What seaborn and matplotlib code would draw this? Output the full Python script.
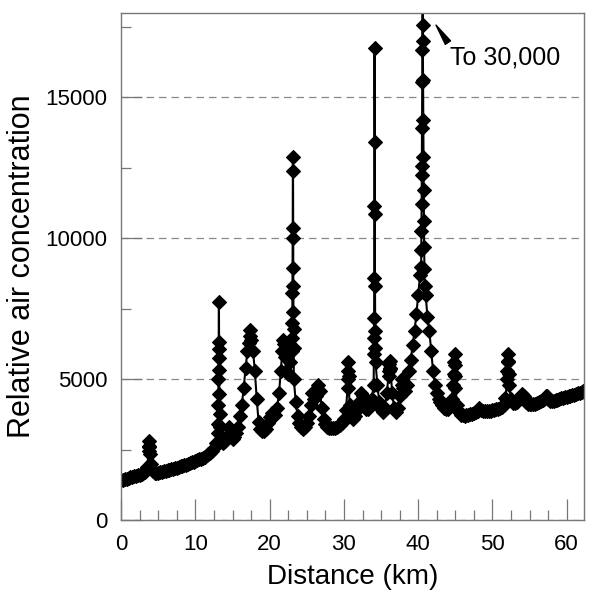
import numpy as np
import pandas as pd
import matplotlib
matplotlib.use("Agg")
import matplotlib.pyplot as plt
import seaborn as sns
from matplotlib.ticker import MultipleLocator

# Baseline concentration, one value every 0.25 km
STEP_KM = 0.25
conc_00_10 = [1420, 1440, 1460, 1480, 1500, 1520, 1540, 1560, 1580, 1600,
              1620, 1640, 1670, 1720, 1900, 2300, 2000, 1750, 1690, 1680,
              1690, 1710, 1730, 1745, 1760, 1775, 1790, 1810, 1830, 1850,
              1870, 1890, 1910, 1930, 1950, 1975, 2000, 2025, 2050, 2075]
conc_10_20 = [2100, 2130, 2160, 2190, 2220, 2260, 2300, 2350, 2400, 2470,
              2560, 2750, 3100, 3300, 2900, 2750, 2800, 3000, 3300, 3100,
              2900, 2950, 3100, 3300, 3700, 4100, 4700, 5400, 6000, 6600,
              6400, 6000, 5300, 4300, 3500, 3250, 3150, 3150, 3250, 3450]
conc_20_30 = [3650, 3800, 3700, 3750, 4000, 4500, 5300, 6200, 5800, 5300,
              5200, 5600, 6000, 5000, 4200, 3700, 3450, 3300, 3250, 3300,
              3450, 3700, 4100, 4500, 4300, 4400, 4800, 4600, 4000, 3600,
              3400, 3300, 3270, 3260, 3270, 3290, 3310, 3340, 3380, 3450]
conc_30_40 = [3600, 3900, 4700, 4100, 3700, 3600, 3700, 3900, 4200, 4500,
              4400, 4100, 3950, 3950, 4050, 4300, 4800, 5600, 4800, 4200,
              3950, 3850, 4000, 4500, 5100, 5400, 4500, 4000, 3850, 4000,
              4400, 4800, 4700, 4600, 4800, 5300, 5700, 6200, 6700, 7300]
conc_40_50 = [8000, 8700, 9300, 9200, 8000, 7200, 6700, 6000, 5300, 4800,
              4500, 4300, 4200, 4100, 4000, 3950, 3950, 4050, 4300, 4800,
              4700, 4100, 3850, 3750, 3720, 3710, 3720, 3740, 3760, 3780,
              3800, 3830, 3870, 4000, 3920, 3870, 3860, 3860, 3870, 3880]
conc_50_63 = [3900, 3920, 3940, 3960, 3990, 4030, 4100, 4350, 5000, 4800,
              4300, 4150, 4150, 4200, 4280, 4380, 4480, 4400, 4200, 4130,
              4110, 4110, 4120, 4140, 4160, 4190, 4220, 4260, 4300, 4400,
              4300, 4220, 4220, 4240, 4260, 4280, 4300, 4320, 4340, 4360,
              4380, 4400, 4420, 4440, 4460, 4480, 4500, 4530, 4560, 4590,
              4620]
segment_start_km = [0, 10, 20, 30, 40, 50]

# Narrow spikes, sampled more finely
spike_km_04 = [3.70, 3.73, 3.76, 3.80, 3.84]
spike_conc_04 = [2450, 2650, 2800, 2600, 2350]
spike_km_13 = [13.05, 13.08, 13.10, 13.12, 13.14, 13.16, 13.18, 13.20, 13.22, 13.24]
spike_conc_13 = [3400, 4100, 5000, 5750, 6330, 7750, 6080, 5330, 4480, 3770]
spike_km_17 = [17.15, 17.30, 17.40]
spike_conc_17 = [6300, 6750, 6550]
spike_km_22 = [21.70, 21.80, 21.90]
spike_conc_22 = [6000, 6400, 6250]
spike_km_23 = [23.02, 23.04, 23.06, 23.08, 23.10, 23.12,
               23.14, 23.16, 23.18, 23.20, 23.22, 23.23]
spike_conc_23 = [6470, 7000, 8070, 8960, 10380, 12870,
                 12400, 10020, 8320, 7390, 6790, 6110]
spike_km_30 = [30.52, 30.55, 30.58, 30.62]
spike_conc_30 = [5000, 5300, 5600, 5100]
spike_km_34 = [34.02, 34.04, 34.06, 34.08, 34.10, 34.12,
               34.14, 34.16, 34.18, 34.20, 34.22]
spike_conc_34 = [5900, 6470, 7180, 8600, 11160, 16740,
                 13400, 10870, 8320, 6720, 6110]
spike_km_36 = [36.05, 36.10, 36.15, 36.20]
spike_conc_36 = [5300, 5550, 5650, 5350]
spike_km_38 = [37.85]
spike_conc_38 = [5000]
spike_km_41 = [40.40, 40.42, 40.44, 40.46, 40.48, 40.50, 40.52, 40.54, 40.56, 40.58,
               40.60,
               40.62, 40.65, 40.68, 40.71, 40.74, 40.77, 40.80, 40.83, 40.86]
spike_conc_41 = [9000, 9600, 10270, 11230, 12230, 12580, 13900, 15530, 16670, 17560,
                 30000,
                 17000, 15600, 14200, 12900, 11700, 10600, 9700, 8900, 8300]
spike_km_45 = [44.82, 44.86, 44.90, 44.94, 44.98]
spike_conc_45 = [5200, 5600, 5900, 5500, 5100]
spike_km_52 = [52.02, 52.06, 52.10, 52.14, 52.18]
spike_conc_52 = [5300, 5650, 5900, 5600, 5200]
spike_km_57 = [57.35]
spike_conc_57 = [4420]


def build_series():
    base_parts = []
    for start, vals in zip(segment_start_km,
                           [conc_00_10, conc_10_20, conc_20_30,
                            conc_30_40, conc_40_50, conc_50_63]):
        km = start + STEP_KM * np.arange(len(vals))
        base_parts.append(pd.DataFrame({"km": km, "conc": vals}))
    base = pd.concat(base_parts, ignore_index=True)

    spikes = [(spike_km_04, spike_conc_04), (spike_km_13, spike_conc_13),
              (spike_km_17, spike_conc_17), (spike_km_22, spike_conc_22),
              (spike_km_23, spike_conc_23), (spike_km_30, spike_conc_30),
              (spike_km_34, spike_conc_34), (spike_km_36, spike_conc_36),
              (spike_km_38, spike_conc_38), (spike_km_41, spike_conc_41),
              (spike_km_45, spike_conc_45), (spike_km_52, spike_conc_52),
              (spike_km_57, spike_conc_57)]
    # drop baseline samples that fall inside a finely sampled spike
    for km, _ in spikes:
        if len(km) > 1:
            base = base[~base["km"].between(min(km), max(km))]
    parts = [base] + [pd.DataFrame({"km": km, "conc": c}) for km, c in spikes]
    df = pd.concat(parts, ignore_index=True)
    return df.sort_values("km", kind="stable").reset_index(drop=True)


df = build_series()

sns.set_theme(style="white")
plt.rcParams["font.family"] = ["Liberation Sans", "DejaVu Sans"]
plt.rcParams["text.color"] = "black"
plt.rcParams["axes.labelcolor"] = "black"

fig, ax = plt.subplots(figsize=(6.0, 6.05), dpi=100)
fig.subplots_adjust(left=0.202, right=0.973, top=0.979, bottom=0.140)

sns.lineplot(data=df, x="km", y="conc", sort=False, estimator=None,
             color="black", linewidth=1.5, marker="D", markersize=7,
             markeredgecolor="black", markeredgewidth=0.8, ax=ax)

ax.set_xlim(0, 62.3)
ax.set_ylim(0, 18000)
ax.xaxis.set_major_locator(MultipleLocator(10))
ax.xaxis.set_minor_locator(MultipleLocator(2.5))
ax.yaxis.set_major_locator(MultipleLocator(5000))
ax.yaxis.set_minor_locator(MultipleLocator(2500))

ax.tick_params(which="both", direction="in", color="#777777",
               top=False, right=False, bottom=True, left=True)
ax.tick_params(which="major", length=15, width=0.9, labelsize=16, pad=10,
               labelcolor="black")
ax.tick_params(which="minor", length=7, width=0.9)

ax.yaxis.grid(True, which="major", color="#888888",
              linestyle=(0, (6, 4)), linewidth=0.9)
ax.xaxis.grid(False)
ax.set_axisbelow(True)

for sp in ax.spines.values():
    sp.set_color("#777777")
    sp.set_linewidth(1.0)

ax.set_xlabel("Distance (km)", fontsize=20, labelpad=6)
ax.set_ylabel("Relative air concentration", fontsize=22, labelpad=6)

ax.annotate("To 30,000", xy=(42.4, 17560), xytext=(44.3, 16150),
            fontsize=18, ha="left", va="baseline",
            arrowprops=dict(arrowstyle="wedge,tail_width=0.25,shrink_factor=0.5",
                            fc="black", ec="black", relpos=(0.0, 1.0),
                            shrinkA=0, shrinkB=0))

fig.savefig("out.png", dpi=100)
